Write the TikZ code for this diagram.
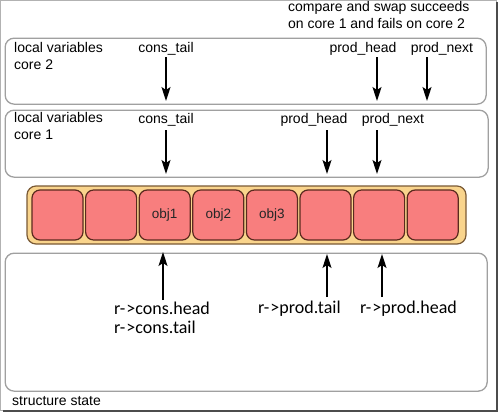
\documentclass[tikz,border=0pt]{standalone}
\usepackage{fontspec}
\setmainfont{Liberation Sans}
\newfontfamily\lblfont{Carlito}
\usetikzlibrary{arrows.meta}
\definecolor{boxgray}{HTML}{A0A0A0}
\definecolor{ringfill}{HTML}{F9D48C}
\definecolor{ringdraw}{HTML}{7A5A35}
\definecolor{cellfill}{HTML}{F87E7E}
\definecolor{celldraw}{HTML}{5A2A1E}
\begin{document}
\begin{tikzpicture}[x=1pt,y=-1pt,
  panel/.style={draw=boxgray,line width=1.3pt,rounded corners=9pt,fill=white,anchor=north west,inner sep=0pt},
  cellbox/.style={draw=celldraw,line width=1.2pt,fill=cellfill,rounded corners=8pt,minimum width=51pt,minimum height=50pt,inner sep=0pt,font=\fontsize{13.5}{15}\selectfont,text=black!85},
  txt/.style={font=\fontsize{14}{17}\selectfont,inner sep=0pt,anchor=base},
  txtl/.style={txt,anchor=base west,align=left},
  blbl/.style={font=\lblfont\fontsize{18}{20}\selectfont,inner sep=0pt,anchor=base west,align=left},
  ptr/.style={line width=1.4pt,-{Stealth[length=14pt,width=9pt,inset=3pt]}}]
\useasboundingbox (0,0) rectangle (500,413);
\fill[white] (0,0) rectangle (500,413);
% outer frame
\draw[gray!60,line width=0.8pt] (0.5,0.5) rectangle (496,410);
\draw[black!70,line width=1.5pt] (497,2) -- (497,411) -- (3,411);
% panels
\node[panel,minimum width=481pt,minimum height=66pt] (core2) at (4.5,37.5) {};
\node[panel,minimum width=483pt,minimum height=67pt] (core1) at (4.5,109.5) {};
\node[panel,minimum width=482pt,minimum height=138pt] (state) at (4.5,252.5) {};
% ring
\node[draw=ringdraw,line width=1.2pt,fill=ringfill,rounded corners=9pt,minimum width=439pt,minimum height=58pt,inner sep=0pt] (ring) at (246.5,215) {};
\foreach \i/\t [count=\k] in {57.5/,111.1/,164.7/obj1,218.3/obj2,271.9/obj3,325.5/,379.1/,432.7/}
  \node[cellbox] (c\k) at (\i,215) {\t};
% texts core 2
\node[txtl] (lv2) at (14,69) {local variables\\core 2};
\node[txt] (ct2) at (166,52) {cons\_tail};
\node[txt] (ph2) at (363,52) {prod\_head};
\node[txt] (pn2) at (442,52) {prod\_next};
\node[txt,align=left,anchor=base west] (cas) at (288,28) {compare and swap succeeds\\on core 1 and fails on core 2};
% texts core 1
\node[txtl] (lv1) at (14,139) {local variables\\core 1};
\node[txt] (ct1) at (166,123) {cons\_tail};
\node[txt] (ph1) at (314,123) {prod\_head};
\node[txt] (pn1) at (393,123) {prod\_next};
% bottom labels
\node[blbl] (rc) at (114,333) {r-\kern1pt>cons.head\\[-1pt]r-\kern1pt>cons.tail};
\node[blbl] (rpt) at (258,313) {r-\kern1pt>prod.tail};
\node[blbl] (rph) at (360,313) {r-\kern1pt>prod.head};
\node[txt,anchor=base west] (ss) at (12,405) {structure state};
% arrow endpoints
\coordinate (a1s) at (166,57); \coordinate (a1e) at (166,101);
\coordinate (a2s) at (377,57); \coordinate (a2e) at (377,101);
\coordinate (a3s) at (427,57); \coordinate (a3e) at (427,101);
\coordinate (b1s) at (166,130); \coordinate (b1e) at (166,174);
\coordinate (b2s) at (327,130); \coordinate (b2e) at (327,174);
\coordinate (b3s) at (377,130); \coordinate (b3e) at (377,174);
\coordinate (d1s) at (163,300); \coordinate (d1e) at (163,252);
\coordinate (d2s) at (327,297); \coordinate (d2e) at (327,254);
\coordinate (d3s) at (382,297); \coordinate (d3e) at (382,254);
\foreach \p in {a1,a2,a3,b1,b2,b3,d1,d2,d3}
  \draw[ptr] (\p s) -- (\p e);
\end{tikzpicture}
\end{document}
